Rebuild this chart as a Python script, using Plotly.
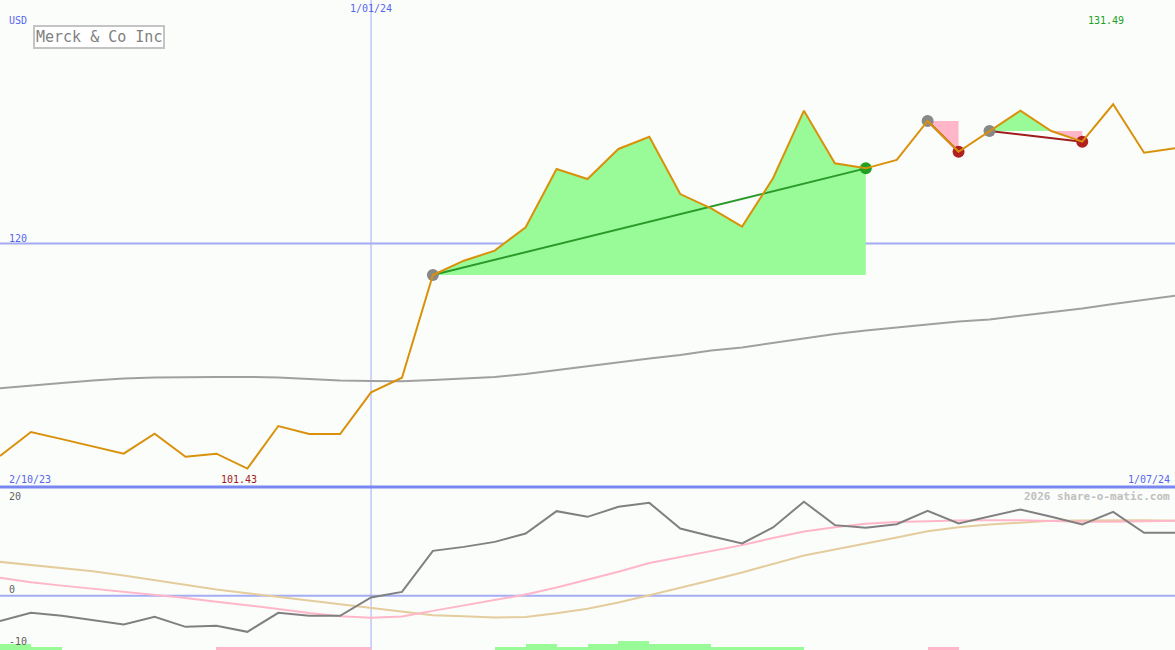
import pandas as pd
import plotly.graph_objects as go

# ---------------- data ----------------
dates = pd.date_range("2023-10-09", periods=39, freq="7D")

price = [102.47, 104.45, 103.86, 103.25, 102.66, 104.31, 102.41, 102.66, 101.43, 104.94,
         104.28, 104.28, 107.72, 108.93, 117.40, 118.58, 119.41, 121.34, 126.15, 125.32,
         127.80, 128.81, 124.08, 122.90, 121.39, 125.38, 130.96, 126.62, 126.20, 126.89,
         130.11, 127.57, 129.28, 130.96, 129.28, 128.40, 131.49, 127.49, 127.85]

ma_long = [108.05, 108.24, 108.49, 108.70, 108.86, 108.94, 108.99, 108.99, 108.99, 108.94,
           108.82, 108.70, 108.66, 108.64, 108.74, 108.86, 108.99, 109.23, 109.56, 109.89,
           110.22, 110.51, 110.80, 111.17, 111.42, 111.79, 112.20, 112.53, 112.82, 113.07,
           113.36, 113.56, 113.73, 114.02, 114.31, 114.64, 115.01, 115.38, 115.69]

osc_gray = [-4.69, -3.16, -3.71, -4.50, -5.31, -3.90, -5.74, -5.55, -6.66, -3.16,
            -3.71, -3.71, -0.34, 0.70, 8.25, 8.98, 9.90, 11.44, 15.55, 14.51,
            16.35, 17.08, 12.37, 10.95, 9.60, 12.55, 17.30, 12.98, 12.48, 13.16,
            15.61, 13.29, 14.63, 15.87, 14.51, 13.10, 15.43, 11.56, 11.56]

osc_pink = [3.28, 2.45, 1.85, 1.30, 0.75, 0.20, -0.45, -1.10, -1.75, -2.45,
            -3.20, -3.80, -4.08, -3.85, -2.80, -1.80, -0.80, 0.20, 1.50, 2.90,
            4.40, 6.00, 7.10, 8.20, 9.30, 10.60, 11.80, 12.60, 13.25, 13.55,
            13.75, 13.85, 13.90, 13.90, 13.75, 13.60, 13.60, 13.70, 13.77]

osc_tan = [6.22, 5.65, 5.08, 4.51, 3.70, 2.80, 1.91, 1.13, 0.45, -0.23,
           -0.93, -1.64, -2.35, -3.03, -3.60, -3.80, -4.00, -3.92, -3.25, -2.40,
           -1.25, 0.09, 1.42, 2.83, 4.28, 5.87, 7.40, 8.50, 9.57, 10.70,
           11.86, 12.60, 13.09, 13.48, 13.78, 13.83, 13.88, 13.87, 13.77]

bar_vals = [1.1, 0.6, 0, 0, 0, 0, 0, -0.6, -0.6, -0.6,
            -0.6, -0.6, 0, 0, 0, 0, 0.6, 1.1, 0.6, 1.1,
            1.65, 1.1, 1.1, 0.6, 0.6, 0.6, 0, 0, 0, 0,
            -0.6, 0, 0, 0, 0, 0, 0, 0, 0]

segments = [(14, 28), (30, 31), (32, 35)]

title_text = "Merck & Co Inc"
currency = "USD"
main_ref_level = 120
date_marker = "2024-01-01"
date_marker_label = "1/01/24"
left_date_label = "2/10/23"
right_date_label = "1/07/24"
osc_labels = ["20", "0", "-10"]
osc_label_vals = [20, 0, -10]
watermark = "2026 share-o-matic.com"

# ---------------- figure ----------------
W, H = 1175, 650
split = 163 / 650
BG = "#fbfdfb"
BLUE_TXT = "#5566ee"
MONO = "DejaVu Sans Mono"

fig = go.Figure()

# segment fills
for s, e in segments:
    xs = list(dates[s:e + 1])
    lvl = price[s]
    seg = price[s:e + 1]
    up = [max(p, lvl) for p in seg]
    dn = [min(p, lvl) for p in seg]
    fig.add_trace(go.Scatter(x=xs, y=[lvl] * len(xs), mode="lines", line=dict(width=0),
                             hoverinfo="skip", yaxis="y"))
    fig.add_trace(go.Scatter(x=xs, y=up, mode="lines", line=dict(width=0), fill="tonexty",
                             fillcolor="#98fb98", hoverinfo="skip", yaxis="y"))
    fig.add_trace(go.Scatter(x=xs, y=[lvl] * len(xs), mode="lines", line=dict(width=0),
                             hoverinfo="skip", yaxis="y"))
    fig.add_trace(go.Scatter(x=xs, y=dn, mode="lines", line=dict(width=0), fill="tonexty",
                             fillcolor="#ffb6c8", hoverinfo="skip", yaxis="y"))

# long moving average
fig.add_trace(go.Scatter(x=dates, y=ma_long, mode="lines",
                         line=dict(color="#a0a0a0", width=2), yaxis="y"))

# trend lines + markers
for s, e in segments:
    gain = price[e] >= price[s]
    col_line = "#2a9a2a" if gain else "#a01c1c"
    col_end = "#22a022" if gain else "#b02020"
    fig.add_trace(go.Scatter(x=[dates[s], dates[e]], y=[price[s], price[e]], mode="lines",
                             line=dict(color=col_line, width=2), yaxis="y"))
    fig.add_trace(go.Scatter(x=[dates[s]], y=[price[s]], mode="markers",
                             marker=dict(color="#888888", size=12, line=dict(width=0)), yaxis="y"))
    fig.add_trace(go.Scatter(x=[dates[e]], y=[price[e]], mode="markers",
                             marker=dict(color=col_end, size=12, line=dict(width=0)), yaxis="y"))

# price line
fig.add_trace(go.Scatter(x=dates, y=price, mode="lines",
                         line=dict(color="#d9910b", width=2), yaxis="y"))

# lower panel bars
week_ms = 7 * 24 * 3600 * 1000
fig.add_trace(go.Bar(x=dates, y=[abs(v) for v in bar_vals], base=-10, offset=0, width=week_ms,
                     marker=dict(color=["#98fb98" if v > 0 else "#ffb6c8" for v in bar_vals],
                                 line=dict(width=0)),
                     yaxis="y2"))

# lower panel lines
fig.add_trace(go.Scatter(x=dates, y=osc_tan, mode="lines",
                         line=dict(color="#e4cc9c", width=2), yaxis="y2"))
fig.add_trace(go.Scatter(x=dates, y=osc_pink, mode="lines",
                         line=dict(color="#ffb6c8", width=2), yaxis="y2"))
fig.add_trace(go.Scatter(x=dates, y=osc_gray, mode="lines",
                         line=dict(color="#808080", width=2), yaxis="y2"))

shapes = [
    dict(type="line", xref="paper", yref="y", x0=0, x1=1, y0=main_ref_level, y1=main_ref_level,
         line=dict(color="#a4acf4", width=2), layer="below"),
    dict(type="line", xref="paper", yref="y2", x0=0, x1=1, y0=0, y1=0,
         line=dict(color="#a4acf4", width=2), layer="below"),
    dict(type="line", xref="x", yref="paper", x0=date_marker, x1=date_marker, y0=0, y1=1,
         line=dict(color="#a4acf4", width=1), layer="below"),
    dict(type="line", xref="paper", yref="paper", x0=0, x1=1, y0=split, y1=split,
         line=dict(color="#7888f0", width=3), layer="above"),
]

imin = price.index(min(price))
imax = price.index(max(price))

def py(px):
    return 1 - px / H

ann = [
    dict(text=currency, x=7 / W, y=py(20), xanchor="left", yanchor="middle",
         font=dict(color=BLUE_TXT, size=10, family=MONO)),
    dict(text=title_text, x=33 / W, y=py(25), xanchor="left", yanchor="top",
         font=dict(color="#808080", size=15, family=MONO),
         bordercolor="#c4c4c4", borderwidth=2, borderpad=1, bgcolor="#ffffff"),
    dict(text=date_marker_label, xref="x", x=date_marker, y=py(9), xanchor="center", yanchor="middle",
         font=dict(color=BLUE_TXT, size=10, family=MONO)),
    dict(text=str(main_ref_level), x=7 / W, yref="y", y=main_ref_level, xanchor="left", yanchor="bottom",
         yshift=-2, font=dict(color=BLUE_TXT, size=10, family=MONO)),
    dict(text=f"{price[imax]:.2f}", xref="x", x=dates[imax], y=py(21), xanchor="center", yanchor="middle",
         xshift=-7, font=dict(color="#20a020", size=10, family=MONO)),
    dict(text=f"{price[imin]:.2f}", xref="x", x=dates[imin], y=py(479), xanchor="center", yanchor="middle",
         xshift=-8, font=dict(color="#a02020", size=10, family=MONO)),
    dict(text=left_date_label, x=7 / W, y=py(479), xanchor="left", yanchor="middle",
         font=dict(color=BLUE_TXT, size=10, family=MONO)),
    dict(text=right_date_label, x=1172 / W, y=py(479), xanchor="right", yanchor="middle",
         font=dict(color=BLUE_TXT, size=10, family=MONO)),
    dict(text="<b>" + watermark + "</b>", x=1172 / W, y=py(496), xanchor="right", yanchor="middle",
         font=dict(color="#c0c0c0", size=11, family=MONO)),
]
osc_label_px = [496, 589, 641]
for t, ypx in zip(osc_labels, osc_label_px):
    ann.append(dict(text=t, x=7 / W, y=py(ypx), xanchor="left", yanchor="middle",
                    font=dict(color="#606060", size=10, family=MONO)))
for a in ann:
    a.setdefault("xref", "paper")
    a.setdefault("yref", "paper")
    a["showarrow"] = False

fig.update_layout(
    width=W, height=H, autosize=False,
    margin=dict(l=0, r=0, t=0, b=0),
    paper_bgcolor=BG, plot_bgcolor=BG,
    showlegend=False, bargap=0,
    xaxis=dict(range=[dates[0], dates[-1]], visible=False, fixedrange=True),
    yaxis=dict(domain=[split, 1], range=[99.91, 140.09], visible=False),
    yaxis2=dict(domain=[0, split], range=[-10, 20], visible=False),
    shapes=shapes, annotations=ann,
)

fig.write_html("out.html", config={"displayModeBar": False},
               post_script="document.body.style.margin='0';document.body.style.padding='0';"
                           "document.body.style.overflow='hidden';")
